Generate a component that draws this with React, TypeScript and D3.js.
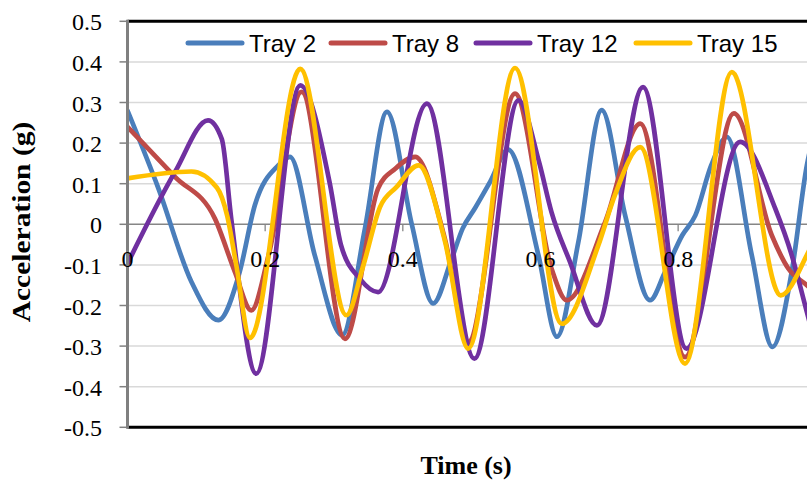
import React from "react";
import * as d3 from "d3";

// ---- data (time in s, acceleration in g) ----
const tray2T = [0, 0.045, 0.093, 0.132, 0.163, 0.185, 0.219, 0.236, 0.272, 0.312, 0.345, 0.377, 0.413, 0.444, 0.47, 0.487, 0.505, 0.527, 0.553, 0.597, 0.624, 0.655, 0.689, 0.723, 0.759, 0.781, 0.806, 0.825, 0.848, 0.871, 0.907, 0.937, 0.965, 0.987, 1.0];
const tray2V = [0.28, 0.088, -0.142, -0.236, -0.117, 0.047, 0.145, 0.166, -0.076, -0.273, -0.01, 0.277, 0.0, -0.195, -0.09, -0.01, 0.04, 0.105, 0.184, -0.076, -0.277, -0.044, 0.281, 0.022, -0.187, -0.117, -0.027, 0.022, 0.145, 0.215, -0.076, -0.302, -0.117, 0.145, 0.24];

const tray8T = [0, 0.069, 0.127, 0.156, 0.18, 0.205, 0.253, 0.316, 0.364, 0.389, 0.418, 0.461, 0.495, 0.563, 0.616, 0.638, 0.694, 0.745, 0.81, 0.881, 0.936, 0.96, 0.987, 1.0];
const tray8V = [0.24, 0.117, 0.014, -0.117, -0.212, -0.076, 0.326, -0.282, 0.088, 0.137, 0.166, -0.035, -0.29, 0.322, -0.109, -0.187, 0.006, 0.248, -0.327, 0.273, -0.027, -0.109, -0.15, -0.17];

const tray12T = [0, 0.069, 0.117, 0.137, 0.151, 0.187, 0.251, 0.294, 0.31, 0.338, 0.364, 0.435, 0.504, 0.568, 0.598, 0.616, 0.643, 0.682, 0.749, 0.812, 0.89, 0.941, 0.965, 0.987, 1.0];
const tray12V = [-0.097, 0.129, 0.256, 0.21, 0.01, -0.368, 0.342, 0.1, -0.05, -0.135, -0.167, 0.297, -0.331, 0.305, 0.153, 0.03, -0.093, -0.249, 0.338, -0.306, 0.203, 0.039, -0.076, -0.216, -0.3];

const tray15T = [0, 0.093, 0.13, 0.145, 0.158, 0.178, 0.251, 0.318, 0.342, 0.367, 0.391, 0.423, 0.461, 0.495, 0.563, 0.631, 0.684, 0.708, 0.745, 0.81, 0.878, 0.949, 0.987, 1.0];
const tray15V = [0.113, 0.13, 0.09, 0.02, -0.1, -0.28, 0.383, -0.224, -0.105, 0.043, 0.092, 0.145, -0.04, -0.306, 0.385, -0.245, -0.052, 0.071, 0.19, -0.343, 0.375, -0.175, -0.076, -0.03];

const seriesNames = ["Tray 2", "Tray 8", "Tray 12", "Tray 15"];
const seriesColors = ["#4A7EBB", "#BE4B48", "#7030A0", "#FFC000"];
const seriesT = [tray2T, tray8T, tray12T, tray15T];
const seriesV = [tray2V, tray8V, tray12V, tray15V];

const yTicks = [0.5, 0.4, 0.3, 0.2, 0.1, 0, -0.1, -0.2, -0.3, -0.4, -0.5];
const xTicks = [0, 0.2, 0.4, 0.6, 0.8];

const W = 807;
const H = 480;

const fmt = (v: number) => String(v);

export default function App() {
  const x = d3.scaleLinear().domain([0, 1]).range([127.5, 815.8]);
  const y = d3.scaleLinear().domain([-0.5, 0.5]).range([427.3, 21.3]);
  const left = x(0);
  const right = W;
  const top = y(0.5);
  const bottom = y(-0.5);

  const line = d3
    .line<[number, number]>()
    .x((d) => x(d[0]))
    .y((d) => y(d[1]))
    .curve(d3.curveMonotoneX);

  const legendStarts = [188, 331, 476, 636];
  const legendY = 43;
  const serif = "'Liberation Serif', 'Times New Roman', serif";
  const sans = "'Liberation Sans', Arial, sans-serif";

  return (
    <svg width={W} height={H} style={{ display: "block", position: "absolute", left: 0, top: 0 }}>
      <rect x={0} y={0} width={W} height={H} fill="#ffffff" />
      <defs>
        <clipPath id="plotClip">
          <rect x={left} y={top} width={right - left} height={bottom - top} />
        </clipPath>
      </defs>
      {yTicks.map((t) => (
        <line
          key={"g" + t}
          x1={left}
          x2={right}
          y1={y(t)}
          y2={y(t)}
          stroke={t === 0 ? "#868686" : "#d9d9d9"}
          strokeWidth={t === 0 ? 1.6 : 1.5}
        />
      ))}
      {xTicks.map((t) => (
        <line key={"xt" + t} x1={x(t)} x2={x(t)} y1={y(0)} y2={y(0) + 7} stroke="#868686" strokeWidth={1.3} />
      ))}
      {yTicks.map((t) => (
        <line key={"yt" + t} x1={left - 8} x2={left} y1={y(t)} y2={y(t)} stroke="#808080" strokeWidth={1.5} />
      ))}
      <g clipPath="url(#plotClip)">
        {seriesT.map((ts, i) => (
          <path
            key={seriesNames[i]}
            d={line(ts.map((t, j) => [t, seriesV[i][j]] as [number, number])) || ""}
            fill="none"
            stroke={seriesColors[i]}
            strokeWidth={4.7}
            strokeLinejoin="round"
            strokeLinecap="round"
          />
        ))}
      </g>
      <line x1={left} x2={right} y1={top} y2={top} stroke="#000" strokeWidth={3} />
      <line x1={left} x2={right} y1={bottom} y2={bottom} stroke="#000" strokeWidth={3} />
      <line x1={left} x2={left} y1={top - 1.5} y2={bottom + 1.5} stroke="#808080" strokeWidth={3} />
      {yTicks.map((t) => (
        <text key={"yl" + t} x={102} y={y(t) + 9} textAnchor="end" fontFamily={serif} fontSize={24} fill="#000">
          {fmt(t)}
        </text>
      ))}
      {xTicks.map((t) => (
        <text key={"xl" + t} x={x(t)} y={267} textAnchor="middle" fontFamily={serif} fontSize={24} fill="#000">
          {fmt(t)}
        </text>
      ))}
      {seriesNames.map((n, i) => (
        <g key={"lg" + n}>
          <line
            x1={legendStarts[i]}
            x2={legendStarts[i] + 54}
            y1={legendY}
            y2={legendY}
            stroke={seriesColors[i]}
            strokeWidth={5}
            strokeLinecap="round"
          />
          <text x={legendStarts[i] + 61} y={legendY + 8.5} fontFamily={sans} fontSize={24} fill="#000">
            {n}
          </text>
        </g>
      ))}
      <text
        transform={`translate(22, 222) rotate(-90) scale(1.18, 1)`}
        textAnchor="middle"
        dominantBaseline="central"
        fontFamily={serif}
        fontWeight="bold"
        fontSize={25}
        fill="#000"
      >
        Acceleration (g)
      </text>
      <text x={466} y={474} textAnchor="middle" fontFamily={serif} fontWeight="bold" fontSize={26} fill="#000">
        Time (s)
      </text>
    </svg>
  );
}
